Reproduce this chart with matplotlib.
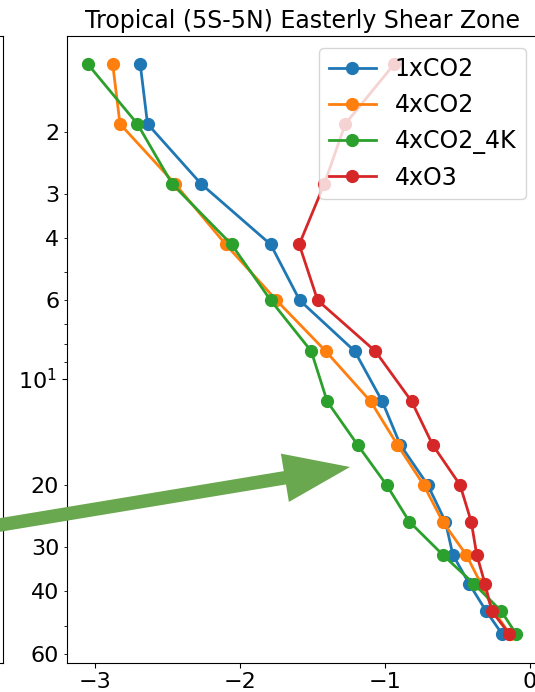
import matplotlib
matplotlib.use("Agg")
import matplotlib.pyplot as plt
from matplotlib.patches import FancyArrow
from matplotlib.ticker import FuncFormatter, LogLocator

# pressure levels (hPa)
levels = [1.29, 1.90, 2.81, 4.17, 6.0, 8.36, 11.6, 15.4, 20.0, 25.4, 31.5, 38.2, 45.5, 52.9]

co2_1x = [-2.69, -2.64, -2.27, -1.79, -1.59, -1.21, -1.02, -0.895, -0.706, -0.584, -0.533, -0.418, -0.303, -0.192]
co2_4x = [-2.88, -2.83, -2.45, -2.10, -1.75, -1.41, -1.10, -0.915, -0.734, -0.603, -0.441, -0.337, -0.25, -0.14]
co2_4x_4k = [-3.05, -2.71, -2.47, -2.06, -1.79, -1.51, -1.40, -1.19, -0.99, -0.833, -0.603, -0.384, -0.199, -0.095]
o3_4x = [-0.94, -1.275, -1.42, -1.593, -1.466, -1.068, -0.817, -0.672, -0.483, -0.406, -0.368, -0.31, -0.264, -0.142]

series = [("1xCO2", co2_1x), ("4xCO2", co2_4x), ("4xCO2_4K", co2_4x_4k), ("4xO3", o3_4x)]
minor_labels = {2: "2", 3: "3", 4: "4", 6: "6", 20: "20", 30: "30", 40: "40", 60: "60"}

W, H = 535, 692
fig = plt.figure(figsize=(W / 100, H / 100), dpi=100)

left, right = 66.7 / W, 537.7 / W
top, bottom = 1 - 36 / H, 1 - 662.7 / H

# neighbouring panel (only its right edge is visible)
ax0 = fig.add_axes([-0.5, bottom, 0.5 + 2.7 / W, top - bottom])
ax0.set_xticks([])
ax0.set_yticks([])

ax = fig.add_axes([left, bottom, right - left, top - bottom])
for name, vals in series:
    ax.plot(vals, levels, marker="o", ms=8.5, lw=2, label=name)

ax.set_yscale("log")
ax.invert_yaxis()
ax.set_xticks([-3, -2, -1, 0])
ax.yaxis.set_minor_locator(LogLocator(base=10, subs=range(2, 10)))
ax.yaxis.set_minor_formatter(FuncFormatter(lambda v, p: minor_labels.get(int(round(v)), "") if abs(v - round(v)) < 1e-6 else ""))
ax.tick_params(axis="both", which="both", labelsize=16)
ax.set_title("Tropical (5S-5N) Easterly Shear Zone", fontsize=17)
ax.legend(loc="upper right", fontsize=17)

arrow = FancyArrow(-0.6, 1.571, 4.1, 0.679, width=0.135, head_width=0.49, head_length=0.66,
                   length_includes_head=True, transform=fig.dpi_scale_trans,
                   color="#6aa84f", lw=0, clip_on=False)
fig.add_artist(arrow)

fig.savefig("out.png", dpi=100)
